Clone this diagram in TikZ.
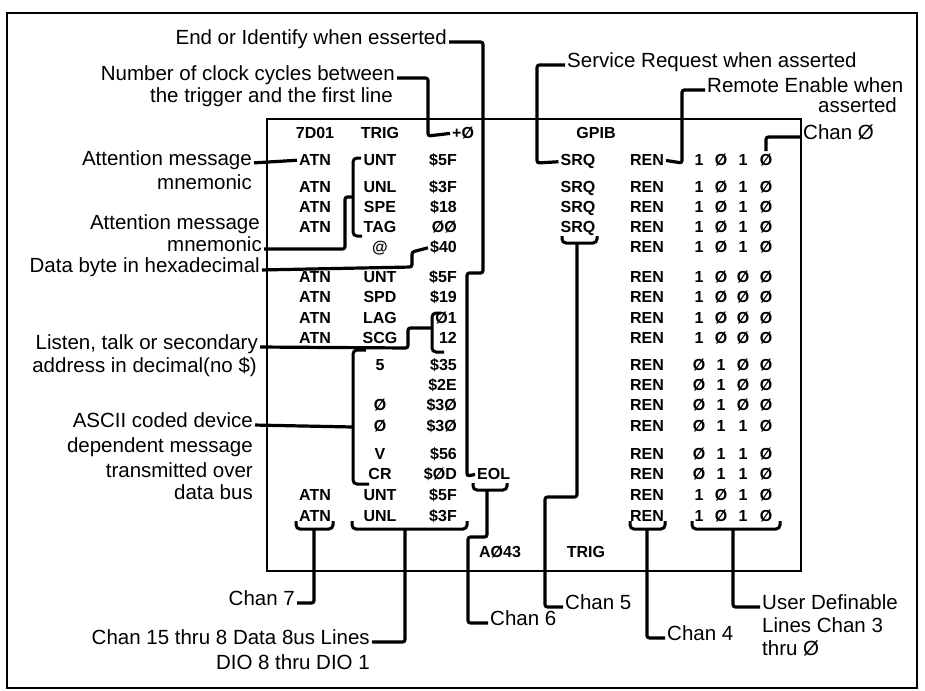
\documentclass[tikz,border=0pt]{standalone}
\usepackage{fontspec}
\setmainfont{Liberation Sans}
\begin{document}
\begin{tikzpicture}[x=1pt,y=-1pt,
  lbl/.style={font=\fontsize{20.5}{23.5}\selectfont, inner sep=0pt},
  cell/.style={font=\bfseries\fontsize{16}{18}\selectfont, inner sep=0pt, anchor=mid},
  cellr/.style={cell, anchor=mid east},
  conn/.style={line width=3.2pt, rounded corners=2.5pt},
  brk/.style={line width=3pt, rounded corners=4pt},
  frame/.style={line width=1.6pt},
  box/.style={line width=1.2pt}]
\useasboundingbox (0,0) rectangle (925,690);
\draw[frame] (7,13) rectangle (917,688);
\draw[box] (267,119) rectangle (801,571);

% header row
\node[cell] (h7d) at (315,136) {7D01};
\node[cell] (htrig) at (380,136) {TRIG};
\node[cell, anchor=mid west] (plus) at (452,136) {+Ø};
\node[cell] (gpib) at (596,136) {GPIB};

% table rows
\foreach \n/\y/\A/\B/\C/\S/\ba/\bb/\bc/\bd in {
  1/163/ATN/UNT/\$5F/SRQ/1/Ø/1/Ø,
  2/190/ATN/UNL/\$3F/SRQ/1/Ø/1/Ø,
  3/210/ATN/SPE/\$18/SRQ/1/Ø/1/Ø,
  4/230/ATN/TAG/ØØ/SRQ/1/Ø/1/Ø,
  5/250//@/\$40//1/Ø/1/Ø,
  6/280/ATN/UNT/\$5F//1/Ø/Ø/Ø,
  7/300/ATN/SPD/\$19//1/Ø/Ø/Ø,
  8/321/ATN/LAG/Ø1//1/Ø/Ø/Ø,
  9/341/ATN/SCG/12//1/Ø/Ø/Ø,
  10/368//5/\$35//Ø/1/Ø/Ø,
  11/388///\$2E//Ø/1/Ø/Ø,
  12/408//Ø/\$3Ø//Ø/1/Ø/Ø,
  13/429//Ø/\$3Ø//Ø/1/1/Ø,
  14/457//V/\$56//Ø/1/1/Ø,
  15/477//CR/\$ØD//Ø/1/1/Ø,
  16/498/ATN/UNT/\$5F//1/Ø/1/Ø,
  17/519/ATN/UNL/\$3F//1/Ø/1/Ø}{
  \node[cell] (a\n) at (315,\y) {\A};
  \node[cell] (b\n) at (380,\y) {\B};
  \node[cellr] (c\n) at (457,\y) {\C};
  \node[cell] (s\n) at (578,\y) {\S};
  \node[cell] (r\n) at (647,\y) {REN};
  \node[cell] (ba\n) at (699,\y) {\ba};
  \node[cell] (bb\n) at (721,\y) {\bb};
  \node[cell] (bc\n) at (743,\y) {\bc};
  \node[cell] (bd\n) at (766,\y) {\bd};
}
\node[cell, anchor=mid west] (eol) at (477,477) {EOL};

% footer
\node[cell] (fa) at (500,555) {AØ43};
\node[cell] (ft) at (586,555) {TRIG};

% labels left
\node[lbl, anchor=mid east] (lEOI) at (447,42) {End or Identify when esserted};
\node[lbl, anchor=mid east] (lNum1) at (395,78) {Number of clock cycles between};
\node[lbl, anchor=mid east] (lNum2) at (393,100) {the trigger and the first line};
\node[lbl, anchor=mid east] (lAtt1) at (252,163) {Attention message};
\node[lbl, anchor=mid east] (lAtt1b) at (252,187) {mnemonic};
\node[lbl, anchor=mid east] (lAtt2) at (260,227) {Attention message};
\node[lbl, anchor=mid east] (lAtt2b) at (262,249) {mnemonic};
\node[lbl, anchor=mid east] (lData) at (260,270) {Data byte in hexadecimal};
\node[lbl, anchor=mid east] (lLis1) at (258,347) {Listen, talk or secondary};
\node[lbl, anchor=mid east] (lLis2) at (257,370) {address in decimal(no \$)};
\node[lbl, anchor=mid east] (lAsc1) at (253,425) {ASCII coded device};
\node[lbl, anchor=mid east] (lAsc2) at (253,450) {dependent message};
\node[lbl, anchor=mid east] (lAsc3) at (253,475) {transmitted over};
\node[lbl, anchor=mid east] (lAsc4) at (253,497) {data bus};
\node[lbl, anchor=mid east] (lChan7) at (295,603) {Chan 7};
\node[lbl, anchor=mid east] (lC15a) at (370,642) {Chan 15 thru 8 Data 8us Lines};
\node[lbl, anchor=mid east] (lC15b) at (370,667) {DIO 8 thru DIO 1};
% labels right
\node[lbl, anchor=mid west] (lChan6) at (490,623) {Chan 6};
\node[lbl, anchor=mid west] (lChan5) at (565,607) {Chan 5};
\node[lbl, anchor=mid west] (lChan4) at (667,638) {Chan 4};
\node[lbl, anchor=mid west] (lUser1) at (762,607) {User Definable};
\node[lbl, anchor=mid west] (lUser2) at (762,630) {Lines Chan 3};
\node[lbl, anchor=mid west] (lUser3) at (762,653) {thru Ø};
\node[lbl, anchor=mid west] (lSRQ) at (567,65) {Service Request when asserted};
\node[lbl, anchor=mid west] (lREN1) at (707,90) {Remote Enable when};
\node[lbl, anchor=mid east] (lREN2) at (897,110) {asserted};
\node[lbl, anchor=mid west] (lChan0) at (803,137) {Chan Ø};

% brackets
\draw[brk] (361,158) -- (353,158) -- (353,236) -- (362,236);
\coordinate (brA) at (353,197);
\draw[brk] (441,313) -- (432,313) -- (432,352) -- (444,352);
\coordinate (brL) at (432,328);
\draw[brk] (366,350) -- (353,350) -- (353,484) -- (369,484);
\coordinate (brS) at (353,427);

% braces
\draw[brk] (296,521) -- (296,529) -- (333,529) -- (333,521);
\coordinate (bzA) at (314,529);
\draw[brk] (352,521) -- (352,529) -- (467,529) -- (467,521);
\coordinate (bzD) at (405,529);
\draw[brk] (473,483) -- (473,490) -- (507,490) -- (507,483);
\coordinate (bzE) at (487,490);
\draw[brk] (562,236) -- (562,243) -- (597,243) -- (597,236);
\coordinate (bzS) at (577,243);
\draw[brk] (630,521) -- (630,529) -- (665,529) -- (665,521);
\coordinate (bzR) at (647,529);
\draw[brk] (692,521) -- (692,529) -- (780,529) -- (780,521);
\coordinate (bzB) at (733,529);

% connectors
\draw[conn, shorten <=2pt, shorten >=2pt] (lEOI.mid east) -- (483,42) -- (483,273) -- (467,273) -- (467,476) -- (eol.west);
\draw[conn, shorten <=2pt, shorten >=2pt] (lNum1.mid east) -- (428,78) -- (428,136) -- (plus.west);
\draw[conn, shorten <=2pt, shorten >=2pt] (lAtt1.mid east) -- (a1.west);
\draw[conn, shorten <=2pt] (lAtt2b.mid east) -- (345,249) -- (345,197) -- (brA);
\draw[conn, shorten <=2pt, shorten >=2pt] (lData.mid east) -- (412,267) -- (412,252) -- (c5.west);
\draw[conn, shorten <=2pt] (lLis1.mid east) -- (408,348) -- (408,328) -- (brL);
\draw[conn, shorten <=2pt] (lAsc1.mid east) -- (brS);
\draw[conn, shorten >=2pt] (bzA) -- (314,603) -- (lChan7.mid east);
\draw[conn, shorten >=2pt] (bzD) -- (405,642) -- (lC15a.mid east);
\draw[conn, shorten >=2pt] (bzE) -- (487,537) -- (468,537) -- (468,623) -- (lChan6.mid west);
\draw[conn, shorten >=2pt] (bzS) -- (577,497) -- (545,497) -- (545,607) -- (lChan5.mid west);
\draw[conn, shorten >=2pt] (bzR) -- (647,638) -- (lChan4.mid west);
\draw[conn, shorten >=2pt] (bzB) -- (733,607) -- (lUser1.mid west);
\draw[conn, shorten <=2pt, shorten >=2pt] (lSRQ.mid west) -- (537,65) -- (537,163) -- (s1.west);
\draw[conn, shorten <=2pt, shorten >=2pt] (lREN1.mid west) -- (682,90) -- (682,163) -- (r1.east);
\draw[conn, shorten <=2pt] (lChan0.mid west) -- (766,137) -- (766,151);
\end{tikzpicture}
\end{document}
